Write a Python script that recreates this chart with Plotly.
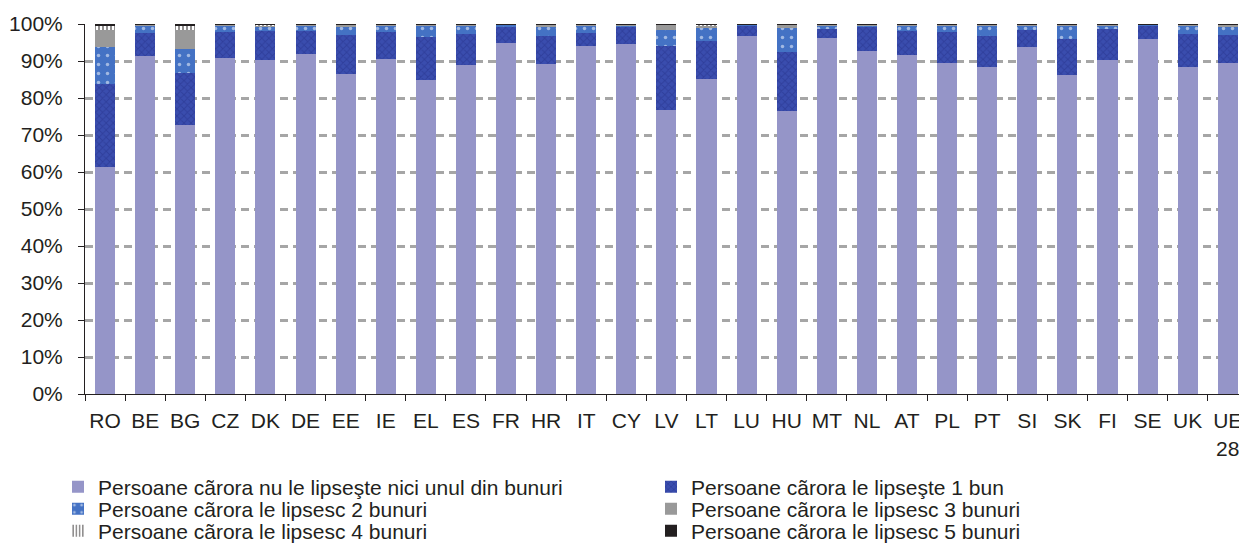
import plotly.graph_objects as go

countries = ["RO", "BE", "BG", "CZ", "DK", "DE", "EE", "IE", "EL", "ES", "FR", "HR", "IT", "CY",
             "LV", "LT", "LU", "HU", "MT", "NL", "AT", "PL", "PT", "SI", "SK", "FI", "SE", "UK", "UE<br>28"]

missing_none = [61.4, 91.3, 72.7, 90.9, 90.4, 91.9, 86.4, 90.5, 84.9, 88.9, 94.9, 89.2, 94.1, 94.6,
                76.8, 85.1, 96.8, 76.5, 96.2, 92.8, 91.7, 89.5, 88.5, 93.9, 86.1, 90.3, 95.9, 88.5, 89.5]
missing_1 = [22.5, 6.3, 14.0, 7.0, 7.8, 6.3, 10.6, 7.3, 11.5, 8.4, 4.2, 7.6, 3.5, 4.5,
             17.3, 10.4, 2.7, 16.0, 2.5, 6.5, 6.5, 8.3, 8.3, 4.6, 9.8, 8.4, 3.6, 8.8, 7.5]
missing_2 = [9.9, 1.9, 6.5, 1.7, 0.9, 1.5, 2.3, 1.7, 3.1, 2.4, 0.7, 2.5, 1.9, 0.6,
             4.3, 3.3, 0.3, 6.3, 1.0, 0.4, 1.5, 1.8, 2.7, 1.2, 3.6, 1.0, 0.3, 2.2, 2.3]
missing_3 = [4.5, 0.3, 5.2, 0.3, 0.6, 0.2, 0.5, 0.3, 0.3, 0.2, 0.1, 0.5, 0.3, 0.2,
             1.4, 0.9, 0.1, 1.0, 0.2, 0.2, 0.2, 0.3, 0.4, 0.2, 0.4, 0.2, 0.1, 0.4, 0.5]
missing_4 = [1.3, 0.1, 1.3, 0.05, 0.2, 0.05, 0.1, 0.1, 0.1, 0.05, 0.05, 0.1, 0.1, 0.05,
             0.1, 0.2, 0.05, 0.1, 0.05, 0.05, 0.05, 0.05, 0.05, 0.05, 0.05, 0.05, 0.05, 0.05, 0.1]
missing_5 = [0.4, 0.1, 0.3, 0.05, 0.1, 0.05, 0.1, 0.1, 0.1, 0.05, 0.05, 0.1, 0.1, 0.05,
             0.1, 0.1, 0.05, 0.1, 0.05, 0.05, 0.05, 0.05, 0.05, 0.05, 0.05, 0.05, 0.05, 0.05, 0.1]

series_names = [
    "Persoane cãrora nu le lipseşte nici unul din bunuri",
    "Persoane cãrora le lipseşte 1 bun",
    "Persoane cãrora le lipsesc 2 bunuri",
    "Persoane cãrora le lipsesc 3 bunuri",
    "Persoane cãrora le lipsesc 4 bunuri",
    "Persoane cãrora le lipsesc 5 bunuri",
]

styles = [
    dict(color="#9595c8"),
    dict(color="#3a4dae", pattern=dict(shape="x", fgcolor="#25318a", size=5, solidity=0.35)),
    dict(color="#4472c4", pattern=dict(shape=".", fgcolor="#ffffff", size=9, solidity=0.12)),
    dict(color="#999999"),
    dict(color="#ffffff", pattern=dict(shape="|", fgcolor="#231f20", size=4, solidity=0.5)),
    dict(color="#231f20"),
]
legend_ids = ["legend", "legend2", "legend3", "legend4", "legend5", "legend6"]

fig = go.Figure()
for name, vals, st, lg in zip(series_names,
                              [missing_none, missing_1, missing_2, missing_3, missing_4, missing_5],
                              styles, legend_ids):
    fig.add_trace(go.Bar(x=countries, y=vals, name=name, legend=lg,
                         marker=dict(line=dict(width=0), **st)))

font_family = "Liberation Sans, Arial, sans-serif"
row_y = [0.1031, 0.0626, 0.0221]
col_x = [58 / 1239, 651 / 1239]


def legend_box(xc, yc):
    return dict(orientation="h", x=xc, xref="container", xanchor="left",
                y=yc, yref="container", yanchor="middle",
                font=dict(size=21, color="#231f20"), itemwidth=30,
                bgcolor="rgba(0,0,0,0)", borderwidth=0)


fig.update_layout(
    width=1239, height=543,
    barmode="stack", bargap=0.5,
    plot_bgcolor="white", paper_bgcolor="white",
    margin=dict(l=85, r=0, t=24, b=149, autoexpand=False),
    font=dict(family=font_family, size=21, color="#231f20"),
    legend=legend_box(col_x[0], row_y[0]),
    legend2=legend_box(col_x[1], row_y[0]),
    legend3=legend_box(col_x[0], row_y[1]),
    legend4=legend_box(col_x[1], row_y[1]),
    legend5=legend_box(col_x[0], row_y[2]),
    legend6=legend_box(col_x[1], row_y[2]),
    showlegend=True,
)
fig.update_xaxes(range=[-0.5, 28.28], showline=True, linecolor="#231f20", linewidth=1,
                 ticks="outside", tickson="boundaries", ticklen=6, tickcolor="#231f20",
                 showgrid=False, tickfont=dict(size=21), tickangle=0, ticklabelstandoff=8)
fig.update_yaxes(range=[0, 100], dtick=10, ticksuffix="%", showline=True, linecolor="#231f20",
                 linewidth=1, ticks="outside", ticklen=6, tickcolor="#231f20",
                 showgrid=True, gridcolor="#a6a6a6", gridwidth=2.5, griddash="8px,5px",
                 zeroline=False, tickfont=dict(size=21), ticklabelstandoff=11)

fig.write_html("out.html", config={"displayModeBar": False},
               post_script="document.body.style.margin='0';document.body.style.overflow='hidden';")
